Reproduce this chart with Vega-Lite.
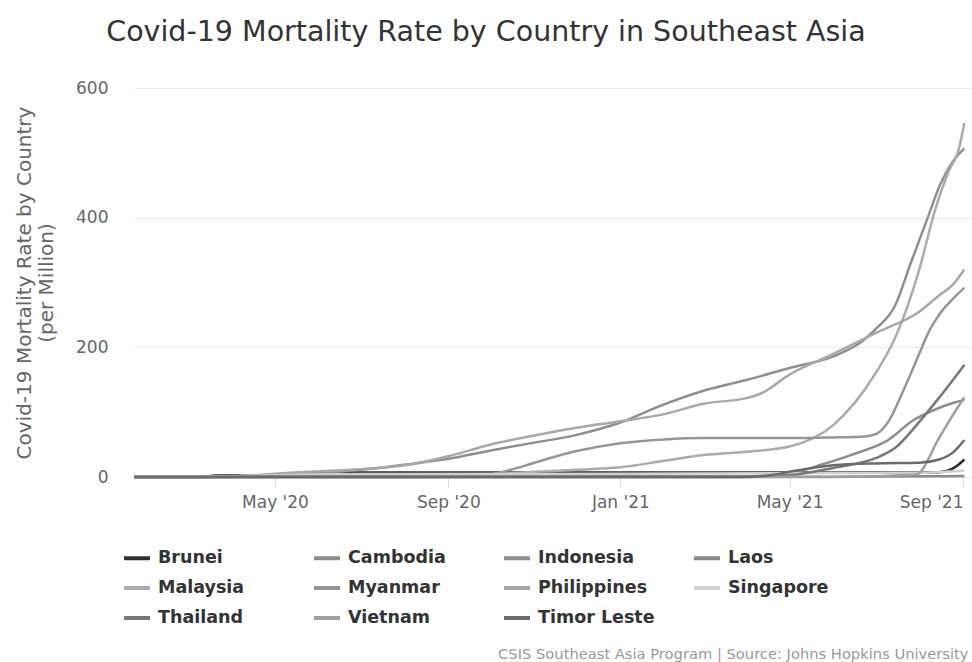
{
  "$schema": "https://vega.github.io/schema/vega-lite/v6.json",
  "width": 836,
  "height": 389,
  "autosize": {"type": "none"},
  "padding": {"left": 134, "top": 88, "right": 2, "bottom": 185},
  "background": "#ffffff",
  "title": {
    "text": "Covid-19 Mortality Rate by Country in Southeast Asia",
    "font": "DejaVu Sans",
    "fontSize": 28.5,
    "fontWeight": "normal",
    "color": "#333333",
    "frame": "group",
    "anchor": "middle",
    "dx": -66,
    "baseline": "alphabetic",
    "offset": 10
  },
  "config": {
    "view": {"stroke": null},
    "font": "DejaVu Sans"
  },
  "data": {
    "values": [
      {"country": "Brunei", "date": "2020-01-22", "rate": 0},
      {"country": "Brunei", "date": "2020-03-10", "rate": 0},
      {"country": "Brunei", "date": "2020-03-20", "rate": 2.3},
      {"country": "Brunei", "date": "2020-05-01", "rate": 2.3},
      {"country": "Brunei", "date": "2020-06-01", "rate": 6.8},
      {"country": "Brunei", "date": "2021-08-10", "rate": 6.8},
      {"country": "Brunei", "date": "2021-08-20", "rate": 9},
      {"country": "Brunei", "date": "2021-08-27", "rate": 16},
      {"country": "Brunei", "date": "2021-09-02", "rate": 27},

      {"country": "Cambodia", "date": "2020-01-22", "rate": 0},
      {"country": "Cambodia", "date": "2021-03-15", "rate": 0},
      {"country": "Cambodia", "date": "2021-04-15", "rate": 1},
      {"country": "Cambodia", "date": "2021-05-01", "rate": 5},
      {"country": "Cambodia", "date": "2021-05-25", "rate": 20},
      {"country": "Cambodia", "date": "2021-06-15", "rate": 35},
      {"country": "Cambodia", "date": "2021-07-10", "rate": 57},
      {"country": "Cambodia", "date": "2021-07-28", "rate": 88},
      {"country": "Cambodia", "date": "2021-08-07", "rate": 99},
      {"country": "Cambodia", "date": "2021-08-26", "rate": 115},
      {"country": "Cambodia", "date": "2021-09-02", "rate": 119},

      {"country": "Indonesia", "date": "2020-01-22", "rate": 0},
      {"country": "Indonesia", "date": "2020-03-01", "rate": 0},
      {"country": "Indonesia", "date": "2020-04-01", "rate": 0.5},
      {"country": "Indonesia", "date": "2020-05-01", "rate": 3},
      {"country": "Indonesia", "date": "2020-06-01", "rate": 6},
      {"country": "Indonesia", "date": "2020-07-01", "rate": 11},
      {"country": "Indonesia", "date": "2020-08-01", "rate": 19},
      {"country": "Indonesia", "date": "2020-09-01", "rate": 28},
      {"country": "Indonesia", "date": "2020-10-01", "rate": 41},
      {"country": "Indonesia", "date": "2020-11-01", "rate": 53},
      {"country": "Indonesia", "date": "2020-12-01", "rate": 65},
      {"country": "Indonesia", "date": "2021-01-01", "rate": 84},
      {"country": "Indonesia", "date": "2021-02-01", "rate": 112},
      {"country": "Indonesia", "date": "2021-03-01", "rate": 133},
      {"country": "Indonesia", "date": "2021-04-01", "rate": 150},
      {"country": "Indonesia", "date": "2021-05-01", "rate": 168},
      {"country": "Indonesia", "date": "2021-06-01", "rate": 186},
      {"country": "Indonesia", "date": "2021-06-22", "rate": 210},
      {"country": "Indonesia", "date": "2021-07-01", "rate": 228},
      {"country": "Indonesia", "date": "2021-07-15", "rate": 265},
      {"country": "Indonesia", "date": "2021-07-26", "rate": 330},
      {"country": "Indonesia", "date": "2021-08-07", "rate": 400},
      {"country": "Indonesia", "date": "2021-08-16", "rate": 452},
      {"country": "Indonesia", "date": "2021-08-25", "rate": 487},
      {"country": "Indonesia", "date": "2021-09-02", "rate": 507},

      {"country": "Laos", "date": "2020-01-22", "rate": 0},
      {"country": "Laos", "date": "2021-05-15", "rate": 0},
      {"country": "Laos", "date": "2021-06-15", "rate": 0.3},
      {"country": "Laos", "date": "2021-08-01", "rate": 1},
      {"country": "Laos", "date": "2021-09-02", "rate": 1.5},

      {"country": "Malaysia", "date": "2020-01-22", "rate": 0},
      {"country": "Malaysia", "date": "2020-03-15", "rate": 0},
      {"country": "Malaysia", "date": "2020-04-01", "rate": 1},
      {"country": "Malaysia", "date": "2020-05-01", "rate": 3},
      {"country": "Malaysia", "date": "2020-07-01", "rate": 4},
      {"country": "Malaysia", "date": "2020-10-01", "rate": 4.5},
      {"country": "Malaysia", "date": "2020-11-01", "rate": 8},
      {"country": "Malaysia", "date": "2020-12-01", "rate": 11},
      {"country": "Malaysia", "date": "2021-01-01", "rate": 15},
      {"country": "Malaysia", "date": "2021-02-01", "rate": 25},
      {"country": "Malaysia", "date": "2021-03-01", "rate": 34},
      {"country": "Malaysia", "date": "2021-04-01", "rate": 39},
      {"country": "Malaysia", "date": "2021-05-01", "rate": 47},
      {"country": "Malaysia", "date": "2021-06-01", "rate": 80},
      {"country": "Malaysia", "date": "2021-07-01", "rate": 160},
      {"country": "Malaysia", "date": "2021-07-15", "rate": 215},
      {"country": "Malaysia", "date": "2021-08-01", "rate": 320},
      {"country": "Malaysia", "date": "2021-08-12", "rate": 410},
      {"country": "Malaysia", "date": "2021-08-22", "rate": 472},
      {"country": "Malaysia", "date": "2021-08-29", "rate": 505},
      {"country": "Malaysia", "date": "2021-09-02", "rate": 546},

      {"country": "Myanmar", "date": "2020-01-22", "rate": 0},
      {"country": "Myanmar", "date": "2020-08-15", "rate": 0.1},
      {"country": "Myanmar", "date": "2020-09-01", "rate": 0.2},
      {"country": "Myanmar", "date": "2020-09-15", "rate": 1},
      {"country": "Myanmar", "date": "2020-10-01", "rate": 4},
      {"country": "Myanmar", "date": "2020-10-15", "rate": 11},
      {"country": "Myanmar", "date": "2020-11-01", "rate": 22},
      {"country": "Myanmar", "date": "2020-12-01", "rate": 40},
      {"country": "Myanmar", "date": "2021-01-01", "rate": 52},
      {"country": "Myanmar", "date": "2021-02-01", "rate": 58},
      {"country": "Myanmar", "date": "2021-03-01", "rate": 60},
      {"country": "Myanmar", "date": "2021-05-01", "rate": 60},
      {"country": "Myanmar", "date": "2021-06-01", "rate": 61},
      {"country": "Myanmar", "date": "2021-06-20", "rate": 62},
      {"country": "Myanmar", "date": "2021-07-01", "rate": 66},
      {"country": "Myanmar", "date": "2021-07-10", "rate": 85},
      {"country": "Myanmar", "date": "2021-07-20", "rate": 130},
      {"country": "Myanmar", "date": "2021-08-01", "rate": 190},
      {"country": "Myanmar", "date": "2021-08-08", "rate": 225},
      {"country": "Myanmar", "date": "2021-08-15", "rate": 250},
      {"country": "Myanmar", "date": "2021-08-25", "rate": 275},
      {"country": "Myanmar", "date": "2021-09-02", "rate": 292},

      {"country": "Philippines", "date": "2020-01-22", "rate": 0},
      {"country": "Philippines", "date": "2020-03-01", "rate": 0},
      {"country": "Philippines", "date": "2020-04-01", "rate": 1},
      {"country": "Philippines", "date": "2020-05-01", "rate": 5},
      {"country": "Philippines", "date": "2020-06-01", "rate": 9},
      {"country": "Philippines", "date": "2020-07-01", "rate": 12},
      {"country": "Philippines", "date": "2020-08-01", "rate": 18},
      {"country": "Philippines", "date": "2020-09-01", "rate": 32},
      {"country": "Philippines", "date": "2020-10-01", "rate": 50},
      {"country": "Philippines", "date": "2020-11-01", "rate": 64},
      {"country": "Philippines", "date": "2020-12-01", "rate": 76},
      {"country": "Philippines", "date": "2021-01-01", "rate": 86},
      {"country": "Philippines", "date": "2021-02-01", "rate": 97},
      {"country": "Philippines", "date": "2021-03-01", "rate": 113},
      {"country": "Philippines", "date": "2021-04-01", "rate": 122},
      {"country": "Philippines", "date": "2021-04-10", "rate": 128},
      {"country": "Philippines", "date": "2021-05-01", "rate": 158},
      {"country": "Philippines", "date": "2021-06-01", "rate": 190},
      {"country": "Philippines", "date": "2021-07-01", "rate": 222},
      {"country": "Philippines", "date": "2021-08-01", "rate": 255},
      {"country": "Philippines", "date": "2021-08-15", "rate": 280},
      {"country": "Philippines", "date": "2021-08-25", "rate": 297},
      {"country": "Philippines", "date": "2021-09-02", "rate": 320},

      {"country": "Singapore", "date": "2020-01-22", "rate": 0},
      {"country": "Singapore", "date": "2020-03-20", "rate": 0},
      {"country": "Singapore", "date": "2020-04-15", "rate": 1.8},
      {"country": "Singapore", "date": "2020-05-01", "rate": 2.4},
      {"country": "Singapore", "date": "2020-06-01", "rate": 4},
      {"country": "Singapore", "date": "2020-07-01", "rate": 4.5},
      {"country": "Singapore", "date": "2021-01-01", "rate": 5},
      {"country": "Singapore", "date": "2021-06-01", "rate": 6},
      {"country": "Singapore", "date": "2021-08-01", "rate": 6.5},
      {"country": "Singapore", "date": "2021-08-20", "rate": 8},
      {"country": "Singapore", "date": "2021-09-02", "rate": 10},

      {"country": "Thailand", "date": "2020-01-22", "rate": 0},
      {"country": "Thailand", "date": "2020-03-15", "rate": 0},
      {"country": "Thailand", "date": "2020-04-15", "rate": 0.6},
      {"country": "Thailand", "date": "2020-06-01", "rate": 0.8},
      {"country": "Thailand", "date": "2021-01-01", "rate": 1},
      {"country": "Thailand", "date": "2021-04-01", "rate": 1.3},
      {"country": "Thailand", "date": "2021-05-01", "rate": 3},
      {"country": "Thailand", "date": "2021-06-01", "rate": 14},
      {"country": "Thailand", "date": "2021-07-01", "rate": 29},
      {"country": "Thailand", "date": "2021-07-15", "rate": 45},
      {"country": "Thailand", "date": "2021-08-01", "rate": 85},
      {"country": "Thailand", "date": "2021-08-15", "rate": 122},
      {"country": "Thailand", "date": "2021-09-02", "rate": 173},

      {"country": "Vietnam", "date": "2020-01-22", "rate": 0},
      {"country": "Vietnam", "date": "2020-07-20", "rate": 0},
      {"country": "Vietnam", "date": "2020-08-15", "rate": 0.3},
      {"country": "Vietnam", "date": "2020-09-15", "rate": 0.4},
      {"country": "Vietnam", "date": "2021-06-01", "rate": 0.4},
      {"country": "Vietnam", "date": "2021-07-01", "rate": 1},
      {"country": "Vietnam", "date": "2021-07-20", "rate": 3},
      {"country": "Vietnam", "date": "2021-07-30", "rate": 4},
      {"country": "Vietnam", "date": "2021-08-15", "rate": 60},
      {"country": "Vietnam", "date": "2021-08-25", "rate": 96},
      {"country": "Vietnam", "date": "2021-09-02", "rate": 123},

      {"country": "Timor Leste", "date": "2020-01-22", "rate": 0},
      {"country": "Timor Leste", "date": "2021-03-25", "rate": 0},
      {"country": "Timor Leste", "date": "2021-04-15", "rate": 2},
      {"country": "Timor Leste", "date": "2021-05-01", "rate": 8},
      {"country": "Timor Leste", "date": "2021-06-01", "rate": 18},
      {"country": "Timor Leste", "date": "2021-07-01", "rate": 21},
      {"country": "Timor Leste", "date": "2021-08-01", "rate": 22},
      {"country": "Timor Leste", "date": "2021-08-15", "rate": 27},
      {"country": "Timor Leste", "date": "2021-08-25", "rate": 38},
      {"country": "Timor Leste", "date": "2021-09-02", "rate": 57}
    ]
  },
  "mark": {"type": "line", "interpolate": "monotone", "strokeWidth": 2.5},
  "encoding": {
    "x": {
      "field": "date",
      "type": "temporal",
      "scale": {
        "type": "utc",
        "domain": [
          {"year": 2020, "month": "jan", "date": 22, "utc": true},
          {"year": 2021, "month": "sep", "date": 6, "utc": true}
        ]
      },
      "axis": {
        "values": [
          {"year": 2020, "month": "may", "date": 1, "utc": true},
          {"year": 2020, "month": "sep", "date": 1, "utc": true},
          {"year": 2021, "month": "jan", "date": 1, "utc": true},
          {"year": 2021, "month": "may", "date": 1, "utc": true},
          {"year": 2021, "month": "sep", "date": 1, "utc": true}
        ],
        "labelExpr": "utcFormat(datum.value, \"%b '%y\")",
        "labelAlign": {"condition": {"test": "datum.value > utc(2021, 6, 1)", "value": "right"}, "value": "center"},
        "grid": false,
        "domain": false,
        "tickColor": "#d9d9d9",
        "tickSize": 10,
        "labelFont": "DejaVu Sans",
        "labelFontSize": 17,
        "labelColor": "#666666",
        "labelPadding": 7,
        "title": "CSIS Southeast Asia Program | Source: Johns Hopkins University",
        "titleFont": "DejaVu Sans",
        "titleFontSize": 14.7,
        "titleFontWeight": "normal",
        "titleColor": "#999999",
        "titleAlign": "right",
        "titleAnchor": "end",
        "titleBaseline": "alphabetic",
        "titleX": 834,
        "titleY": 181
      }
    },
    "y": {
      "field": "rate",
      "type": "quantitative",
      "scale": {"domain": [0, 600], "nice": false},
      "axis": {
        "values": [0, 200, 400, 600],
        "grid": true,
        "gridColor": "#e6e6e6",
        "domain": false,
        "ticks": false,
        "labelFont": "DejaVu Sans",
        "labelFontSize": 17,
        "labelColor": "#666666",
        "labelPadding": 26,
        "title": ["Covid-19 Mortality Rate by Country", "(per Million)"],
        "titleFont": "DejaVu Sans",
        "titleFontSize": 20,
        "titleFontWeight": "normal",
        "titleColor": "#666666",
        "titleLineHeight": 22,
        "titlePadding": 19
      }
    },
    "color": {
      "field": "country",
      "type": "nominal",
      "scale": {
        "domain": ["Brunei", "Cambodia", "Indonesia", "Laos", "Malaysia", "Myanmar", "Philippines", "Singapore", "Thailand", "Vietnam", "Timor Leste"],
        "range": ["#2e2e2e", "#8c8c8c", "#8f8f8f", "#8a8a8a", "#ababab", "#969696", "#a8a8a8", "#cfcfcf", "#787878", "#a0a0a0", "#6b6b6b"]
      },
      "legend": {
        "orient": "none",
        "legendX": -12,
        "legendY": 455,
        "direction": "horizontal",
        "columns": 4,
        "gridAlign": "all",
        "title": null,
        "padding": 0,
        "symbolType": "stroke",
        "symbolSize": 676,
        "symbolStrokeWidth": 4,
        "labelFont": "DejaVu Sans",
        "labelFontSize": 17.5,
        "labelFontWeight": "bold",
        "labelColor": "#333333",
        "labelOffset": 6,
        "columnPadding": 31,
        "rowPadding": 6
      }
    }
  }
}
